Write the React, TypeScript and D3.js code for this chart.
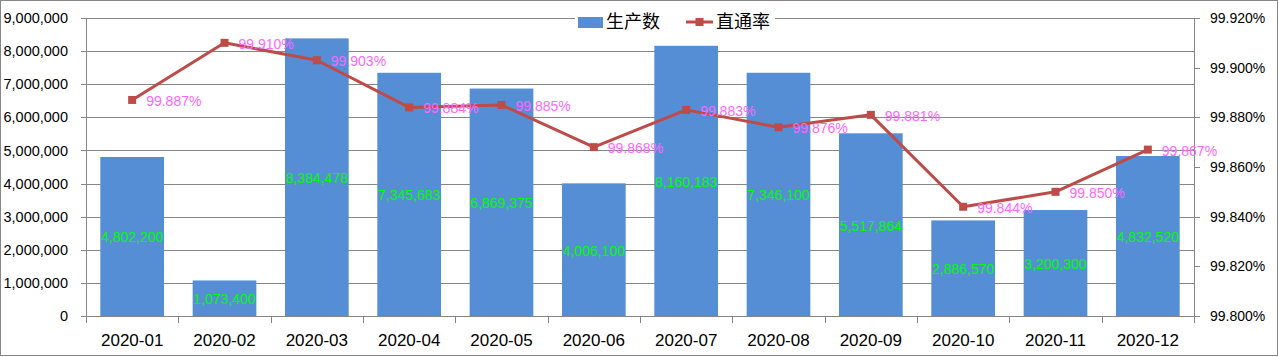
import React from "react";
import * as d3 from "d3";

const categories = ["2020-01","2020-02","2020-03","2020-04","2020-05","2020-06","2020-07","2020-08","2020-09","2020-10","2020-11","2020-12"];
const production = [4802200,1073400,8384478,7345683,6869375,4006100,8160183,7346100,5517864,2886570,3200300,4832520];
const passRate = [99.887,99.910,99.903,99.884,99.885,99.868,99.883,99.876,99.881,99.844,99.850,99.867];
const leftTicks = [0,1000000,2000000,3000000,4000000,5000000,6000000,7000000,8000000,9000000];
const rightTicks = [99.80,99.82,99.84,99.86,99.88,99.90,99.92];
const seriesNames = ["生产数","直通率"];

const W = 1279, H = 357;
const left = 86, right = 1194, top = 18, bottom = 316;
const FONT = "'Liberation Sans', Arial, sans-serif";
const BAR = "#558ed5";
const LINE = "#be4b48";
const GRID = "#868686";

export default function App() {
  const x = d3.scaleBand<string>().domain(categories).range([left, right]).paddingInner(0.31).paddingOuter(0.155);
  const xc = (c: string) => (x(c) as number) + x.bandwidth() / 2;
  const step = (right - left) / categories.length;
  const yL = d3.scaleLinear().domain([0, 9000000]).range([bottom, top]);
  const yR = d3.scaleLinear().domain([99.80, 99.92]).range([bottom, top]);
  const fmtN = d3.format(",");
  const fmtP = (v: number) => v.toFixed(3) + "%";
  const line = d3.line<number>().x((_, i) => xc(categories[i])).y((d) => yR(d));

  return (
    <svg width={W} height={H} style={{ position: "absolute", left: 0, top: 0, background: "#fff" }} fontFamily={FONT}>
      <rect x={0.5} y={0.5} width={W - 2} height={H - 2} fill="#fff" stroke={GRID} />
      {leftTicks.map((t) => (
        <line key={"g" + t} x1={left - 5} x2={right} y1={Math.round(yL(t)) + 0.5} y2={Math.round(yL(t)) + 0.5} stroke={GRID} strokeWidth={1} />
      ))}
      {leftTicks.map((t) => (
        <text key={"lt" + t} x={left - 18} y={yL(t)} dy="0.35em" textAnchor="end" fontSize={14.5} fill="#000">{fmtN(t)}</text>
      ))}
      <line x1={left + 0.5} x2={left + 0.5} y1={top} y2={bottom + 7} stroke={GRID} />
      <line x1={right + 0.5} x2={right + 0.5} y1={top} y2={bottom + 7} stroke={GRID} />
      {categories.map((c, i) => (
        <line key={"xt" + c} x1={Math.round(left + step * (i + 1)) + 0.5} x2={Math.round(left + step * (i + 1)) + 0.5} y1={bottom} y2={bottom + 7} stroke={GRID} />
      ))}
      {rightTicks.map((t) => (
        <g key={"rt" + t}>
          <line x1={right} x2={right + 6} y1={Math.round(yR(t)) + 0.5} y2={Math.round(yR(t)) + 0.5} stroke={GRID} />
          <text x={right + 16} y={yR(t)} dy="0.35em" fontSize={14} fill="#000">{t.toFixed(3) + "%"}</text>
        </g>
      ))}
      {categories.map((c, i) => (
        <rect key={"b" + c} x={x(c)} y={yL(production[i])} width={x.bandwidth()} height={bottom - yL(production[i])} fill={BAR} />
      ))}
      {categories.map((c) => (
        <text key={"xl" + c} x={xc(c)} y={340} dy="0.35em" textAnchor="middle" fontSize={17} fill="#000">{c}</text>
      ))}
      {categories.map((c, i) => (
        <text key={"bl" + c} x={xc(c)} y={(yL(production[i]) + bottom) / 2 + 1} dy="0.35em" textAnchor="middle" fontSize={14} fill="#00ff00">{fmtN(production[i])}</text>
      ))}
      <path d={line(passRate) || ""} fill="none" stroke={LINE} strokeWidth={3} strokeLinejoin="round" />
      {categories.map((c, i) => (
        <rect key={"m" + c} x={xc(c) - 4} y={yR(passRate[i]) - 4} width={8} height={8} fill={LINE} />
      ))}
      {categories.map((c, i) => (
        <text key={"pl" + c} x={xc(c) + 14} y={yR(passRate[i]) + 1} dy="0.35em" fontSize={14} fill="#ff66ff">{fmtP(passRate[i])}</text>
      ))}
      <rect x={575} y={8} width={200} height={24} fill="#fff" />
      <rect x={578} y={17} width={25} height={11} fill={BAR} />
      <text x={606} y={22} dy="0.35em" fontSize={18} fill="#000" fontFamily="'Noto Sans CJK SC', sans-serif">{seriesNames[0]}</text>
      <line x1={686} x2={713} y1={22} y2={22} stroke={LINE} strokeWidth={3} />
      <rect x={695.5} y={18} width={8} height={8} fill={LINE} />
      <text x={716} y={22} dy="0.35em" fontSize={18} fill="#000" fontFamily="'Noto Sans CJK SC', sans-serif">{seriesNames[1]}</text>
    </svg>
  );
}
